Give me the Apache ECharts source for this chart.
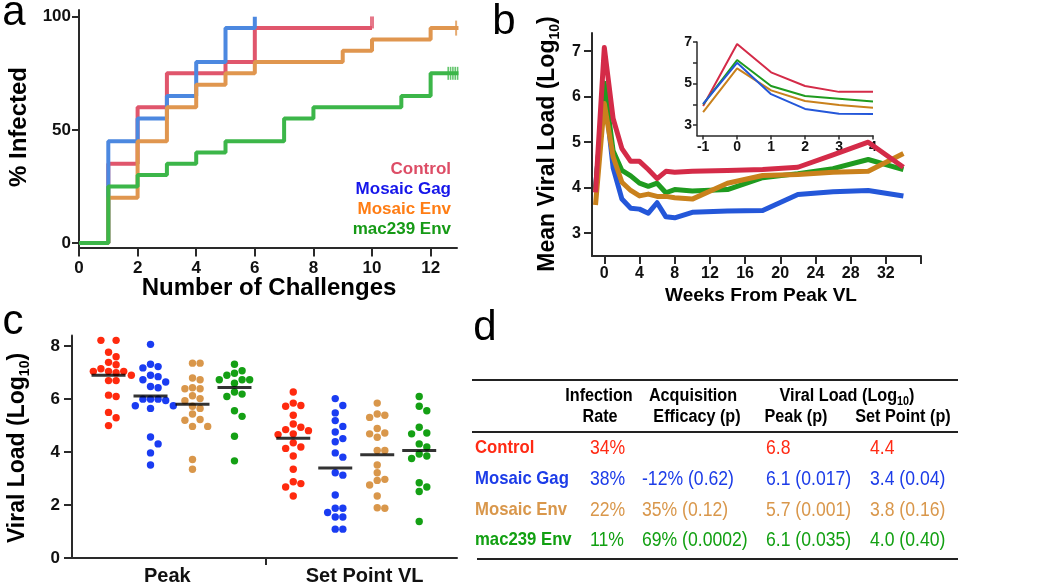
<!DOCTYPE html>
<html><head><meta charset="utf-8">
<script src="https://cdn.jsdelivr.net/npm/echarts@6/dist/echarts.min.js"></script>
<style>html,body{margin:0;padding:0;background:#fff}#chart{width:1050px;height:586px}</style>
</head><body><div id="chart"></div>
<script>
// ---------------- Panel a : % infected vs number of challenges ----------------
const groupNames = ['Control', 'Mosaic Gag', 'Mosaic Env', 'mac239 Env'];
const challengeControl = [0, 1, 2, 3, 5, 6, 10];
const infectedControl  = [0, 35, 60, 75, 80, 95, 95];
const challengeGag = [0, 1, 2, 3, 4, 5, 6];
const infectedGag  = [0, 45, 55, 65, 80, 95, 100];
const challengeEnv = [0, 1, 2, 3, 4, 5, 6, 9, 10, 12, 12.95];
const infectedEnv  = [0, 20, 45, 60, 70, 75, 80, 85, 90, 95, 95];
const challengeMac = [0, 1, 2, 3, 4, 5, 7, 8, 11, 12, 12.95];
const infectedMac  = [0, 25, 30, 35, 40, 45, 55, 60, 65, 75, 75];
const censorControlX = [10], censorControlY = [97.5];
const censorEnvX = [12.87], censorEnvY = [95];
const censorMacX = [12.6, 12.68, 12.76, 12.84, 12.92], censorMacY = [75, 75, 75, 75, 75];
const aXTicks = [0, 2, 4, 6, 8, 10, 12];
const aYTicks = [0, 50, 100];

// ---------------- Panel b : mean viral load vs weeks ----------------
const weeksB = [-1, 0, 1, 2, 3, 4, 5, 6, 7, 8, 10, 14, 18, 22, 26, 30, 34];
const vlControl = [3.9, 7.08, 5.52, 4.86, 4.58, 4.58, 4.4, 4.2, 4.36, 4.34, 4.36, 4.38, 4.4, 4.45, 4.72, 5.0, 4.45];
const vlGag     = [4.0, 6.2, 4.44, 3.75, 3.55, 3.53, 3.44, 3.67, 3.36, 3.34, 3.46, 3.49, 3.5, 3.85, 3.91, 3.94, 3.82];
const vlEnv     = [3.62, 5.85, 4.68, 4.12, 3.94, 3.82, 3.86, 3.81, 3.81, 3.78, 3.75, 4.1, 4.27, 4.29, 4.34, 4.36, 4.75];
const vlMac     = [3.95, 6.3, 4.81, 4.38, 4.26, 4.1, 4.03, 4.1, 3.89, 3.96, 3.93, 3.96, 4.22, 4.31, 4.42, 4.62, 4.4];
const bXTicks = [0, 4, 8, 12, 16, 20, 24, 28, 32, 36];
const bXLabels = [0, 4, 8, 12, 16, 20, 24, 28, 32];
const bYTicks = [3, 4, 5, 6, 7];
// inset
const weeksInset = [-1, 0, 1, 2, 3, 4];
const insetControl = [3.92, 6.9, 5.54, 4.88, 4.6, 4.6];
const insetGag     = [4.02, 6.0, 4.49, 3.78, 3.55, 3.53];
const insetEnv     = [3.62, 5.73, 4.67, 4.16, 3.97, 3.84];
const insetMac     = [4.0, 6.13, 4.88, 4.4, 4.27, 4.14];
const insetYTicks = [3, 4, 5, 6, 7];
const insetYLabels = [3, 5, 7];
const insetXTicks = [-1, 0, 1, 2, 3, 4];

// ---------------- Panel c : individual viral loads ----------------
const peakControl = [8.45, 8.22, 8.22, 7.77, 7.6, 7.39, 7.3, 7.15, 7.05, 7.05, 7.05, 7.0, 6.9, 6.7, 6.7, 6.15, 6.1, 5.5, 5.3, 5.0];
const peakGag     = [8.07, 7.32, 7.23, 7.18, 6.9, 6.85, 6.73, 6.65, 6.48, 6.43, 6.0, 6.0, 6.0, 5.95, 5.75, 5.75, 5.65, 4.57, 4.31, 3.97, 3.51];
const peakEnv     = [7.36, 7.36, 6.8, 6.73, 6.43, 6.39, 6.39, 6.13, 6.02, 5.94, 5.73, 5.65, 5.44, 5.23, 5.2, 4.97, 4.97, 3.72, 3.35];
const peakMac     = [7.32, 7.07, 6.98, 6.9, 6.73, 6.73, 6.73, 6.6, 6.27, 6.19, 6.1, 5.56, 5.35, 4.6, 3.67];
const spControl   = [6.27, 5.85, 5.76, 5.73, 5.39, 5.06, 4.94, 4.85, 4.81, 4.69, 4.66, 4.35, 4.19, 4.14, 3.85, 3.35, 2.88, 2.81, 2.68, 2.34];
const spGag       = [6.02, 5.76, 5.48, 5.19, 4.97, 4.76, 4.51, 4.39, 3.97, 3.81, 3.22, 3.13, 2.38, 1.88, 1.88, 1.72, 1.55, 1.55, 1.09, 1.09];
const spEnv       = [5.85, 5.44, 5.39, 5.31, 4.89, 4.72, 4.69, 4.56, 4.06, 4.06, 3.51, 3.22, 2.97, 2.93, 2.76, 2.34, 1.9, 1.88];
const spMac       = [6.1, 5.73, 5.56, 4.94, 4.72, 4.69, 4.31, 4.19, 3.93, 3.85, 3.76, 2.84, 2.68, 2.51, 1.38];
const peakLines = [6.9, 6.12, 5.81, 6.44];
const spLines   = [4.52, 3.4, 3.9, 4.06];
const cCategories = ['Peak', 'Set Point VL'];
const cYTicks = [0, 2, 4, 6, 8];

// ---------------- Panel d : table ----------------
const tableHeader1 = ['Infection', 'Acquisition', 'Viral Load (Log10)'];
const tableHeader2 = ['Rate', 'Efficacy (p)', 'Peak (p)', 'Set Point (p)'];
const infectionRate = ['34%', '38%', '22%', '11%'];
const acquisition   = ['', '-12% (0.62)', '35% (0.12)', '69% (0.0002)'];
const peakP         = ['6.8', '6.1 (0.017)', '5.7 (0.001)', '6.1 (0.035)'];
const setPointP     = ['4.4', '3.4 (0.04)', '3.8 (0.16)', '4.0 (0.40)'];

// ---------------- colours ----------------
const colA = ['#e0566c', '#4c88e0', '#e0964f', '#3cb649'];
const colLegendA = ['#dd4d66', '#1616ea', '#ff7d14', '#169a16'];
const colB = ['#d42b48', '#2457d9', '#c9811c', '#1f9b1f'];
const colC = ['#ff2a0e', '#1a3cf2', '#d9974b', '#14a014'];
const colD = ['#ff2a14', '#1c3ce8', '#d9974b', '#12a012'];

const FONT = '"Liberation Sans", Arial, sans-serif';
const NARROW = '"Liberation Sans Narrow", "Liberation Sans", Arial, sans-serif';
const AX = '#2a2a2a';

function pairs(xs, ys) { return xs.map((x, i) => [x, ys[i]]); }

function valueAxis(o) {
  const ax = {
    type: 'value', gridIndex: o.grid, min: o.min, max: o.max, scale: true,
    splitLine: { show: false },
    axisLine: { show: true, onZero: false, lineStyle: { color: AX, width: o.lw || 2 } },
    axisTick: { show: true, length: o.tickLen || 7, lineStyle: { color: AX, width: o.lw || 2 }, customValues: o.ticks },
    axisLabel: { show: true, margin: o.margin || 10, color: '#111', fontFamily: o.family || FONT, fontWeight: 'bold', fontSize: o.fs || 17, customValues: o.labels || o.ticks, formatter: o.formatter },
  };
  if (o.pos) ax.position = o.pos;
  return ax;
}

// beeswarm layout: offsets (in px) computed from the values
function swarm(values, centerX, pxPerX, pxPerY, step) {
  const sorted = values.slice().sort((a, b) => b - a);
  const placed = [];
  const out = [];
  sorted.forEach(v => {
    const yp = v * pxPerY;
    for (let k = 0; k < 30; k++) {
      const m = k === 0 ? 0 : (k % 2 ? Math.ceil(k / 2) : -Math.ceil(k / 2));
      const xp = m * step;
      let ok = true;
      for (const p of placed) {
        const dx = xp - p[0], dy = yp - p[1];
        if (dx * dx + dy * dy < step * step * 0.98) { ok = false; break; }
      }
      if (ok) { placed.push([xp, yp]); out.push([centerX + xp / pxPerX, v]); break; }
    }
  });
  return out;
}

const series = [];
// panel a
const aX = [challengeControl, challengeGag, challengeEnv, challengeMac];
const aY = [infectedControl, infectedGag, infectedEnv, infectedMac];
[3, 0, 1, 2].forEach(i => {
  series.push({ type: 'line', xAxisIndex: 0, yAxisIndex: 0, step: 'end', data: pairs(aX[i], aY[i]),
    showSymbol: false, symbol: 'none', clip: false, lineStyle: { color: colA[i], width: 4 }, z: 2 + i, animation: false });
});
[[censorControlX, censorControlY, 0, [4, 12]], [censorEnvX, censorEnvY, 2, [2, 15]], [censorMacX, censorMacY, 3, [1.6, 13]]].forEach(c => {
  series.push({ type: 'scatter', xAxisIndex: 0, yAxisIndex: 0, symbol: 'rect', symbolSize: c[3], clip: false,
    data: pairs(c[0], c[1]), itemStyle: { color: colA[c[2]] }, z: 8, animation: false, silent: true });
});
// panel b main
const bY = [vlControl, vlGag, vlEnv, vlMac];
[1, 3, 2, 0].forEach(i => {
  series.push({ type: 'line', xAxisIndex: 1, yAxisIndex: 1, data: pairs(weeksB, bY[i]), showSymbol: false, symbol: 'none',
    lineStyle: { color: colB[i], width: 5, join: 'round' }, z: 3, animation: false });
});
// inset
const inY = [insetControl, insetGag, insetEnv, insetMac];
[0, 3, 2, 1].forEach(i => {
  series.push({ type: 'line', xAxisIndex: 2, yAxisIndex: 2, data: pairs(weeksInset, inY[i]), showSymbol: false, symbol: 'none',
    lineStyle: { color: colB[i], width: 2 }, z: 4, animation: false });
});
// panel c
const cPxX = 42, cPxY = 26.6;
const peakSets = [peakControl, peakGag, peakEnv, peakMac];
const spSets = [spControl, spGag, spEnv, spMac];
[peakSets, spSets].forEach((sets, g) => {
  sets.forEach((vals, i) => {
    const cx = g * 4.4 + i;
    series.push({ type: 'scatter', xAxisIndex: 3, yAxisIndex: 3, symbol: 'circle', symbolSize: 7.4,
      data: swarm(vals, cx, cPxX, cPxY, 7.6), itemStyle: { color: colC[i], opacity: 1 }, z: 3, animation: false });
  });
  const lines = g === 0 ? peakLines : spLines;
  series.push({ type: 'scatter', xAxisIndex: 3, yAxisIndex: 3, symbol: 'rect', symbolSize: [34, 3],
    data: lines.map((v, i) => [g * 4.4 + i, v]), itemStyle: { color: '#000' }, z: 6, animation: false });
});

const option = {
  backgroundColor: '#fff',
  animation: false,
  grid: [
    { left: 79, top: 10, width: 378, height: 237.5 },
    { left: 592, top: 33, width: 329, height: 223 },
    { left: 697, top: 42, width: 176, height: 93.5 },
    { left: 72, top: 335.6, width: 385, height: 223.4 },
  ],
  xAxis: [
    valueAxis({ grid: 0, min: 0, max: 12.9, ticks: aXTicks, tickLen: 9, margin: 12, fs: 17, pos: 'bottom' }),
    valueAxis({ grid: 1, min: -1.4, max: 36, ticks: bXTicks, labels: bXLabels, tickLen: 8, margin: 10, fs: 16, family: NARROW, pos: 'bottom' }),
    valueAxis({ grid: 2, min: -1.18, max: 4, ticks: insetXTicks, tickLen: 4, margin: 5, fs: 14, family: NARROW, lw: 1.5, pos: 'bottom' }),
    valueAxis({ grid: 3, min: -0.87, max: 8.3, ticks: [3.75], labels: [1.4, 6.1], tickLen: 7, margin: 8, fs: 20, pos: 'bottom',
      formatter: v => (v < 4 ? cCategories[0] : cCategories[1]) }),
  ],
  yAxis: [
    valueAxis({ grid: 0, min: -2, max: 103, ticks: aYTicks, tickLen: 7, margin: 8, fs: 17, pos: 'left' }),
    valueAxis({ grid: 1, min: 2.5, max: 7.4, ticks: bYTicks, tickLen: 8, margin: 11, fs: 16, family: NARROW, pos: 'left' }),
    valueAxis({ grid: 2, min: 2.5, max: 7, ticks: insetYTicks, labels: insetYLabels, tickLen: 4, margin: 5, fs: 14, family: NARROW, lw: 1.5, pos: 'left' }),
    valueAxis({ grid: 3, min: 0, max: 8.4, ticks: cYTicks, tickLen: 8, margin: 12, fs: 17, pos: 'left' }),
  ],
  series: series,
  graphic: []
};

// ---- graphic texts ----
const G = option.graphic;
function txt(t, x, y, o) {
  o = o || {};
  G.push({ type: 'text', x: x, y: y, rotation: o.rot || 0, scaleX: o.sx || 1, z: 100, silent: true,
    style: { text: t, fill: o.color || '#000', font: o.font || ('bold 24px ' + FONT),
      textAlign: o.align || 'center', align: o.align || 'center', textVerticalAlign: 'middle', verticalAlign: 'middle', rich: o.rich } });
}
function subRich(size, sub) {
  return {
    m: { fontFamily: FONT, fontWeight: 'bold', fontSize: size, lineHeight: size + 6 },
    s: { fontFamily: FONT, fontWeight: 'bold', fontSize: sub, lineHeight: sub, verticalAlign: 'bottom' }
  };
}
// panel letters
txt('a', 14, 13, { font: '42px ' + FONT });
txt('b', 504, 22, { font: '42px ' + FONT });
txt('c', 13, 322, { font: '42px ' + FONT });
txt('d', 485, 328, { font: '42px ' + FONT });
// axis titles
txt('% Infected', 19, 127, { rot: Math.PI / 2 });
txt('Number of Challenges', 269, 288);
txt('{m|Mean Viral Load (Log}{s|10}{m|)}', 548, 144, { rot: Math.PI / 2, rich: subRich(23, 14) });
txt('Weeks From Peak VL', 761, 296, { font: 'bold 19px ' + FONT });
txt('{m|Viral Load (Log}{s|10}{m|)}', 18, 448, { rot: Math.PI / 2, rich: subRich(23, 14) });
// legend panel a
const legY = [169, 189, 209, 229];
groupNames.forEach((n, i) => txt(n, 451, legY[i], { align: 'right', color: colLegendA[i], font: 'bold 17px ' + FONT }));

// table lines
[[472, 380, 958], [472, 432, 958], [477, 559, 958]].forEach(l => {
  G.push({ type: 'line', z: 100, silent: true, shape: { x1: l[0], y1: l[1], x2: l[2], y2: l[1] }, style: { stroke: '#222', lineWidth: 2 } });
});
// headers
const hFont = 'bold 18px ' + FONT;
txt(tableHeader1[0], 599, 396, { font: hFont, sx: 0.9 });
txt(tableHeader1[1], 693, 396, { font: hFont, sx: 0.9 });
txt('{m|Viral Load (Log}{s|10}{m|)}', 847, 396, { sx: 0.9, rich: subRich(18, 12) });
txt(tableHeader2[0], 600, 417, { font: hFont, sx: 0.9 });
txt(tableHeader2[1], 697, 417, { font: hFont, sx: 0.9 });
txt(tableHeader2[2], 796, 417, { font: hFont, sx: 0.9 });
txt(tableHeader2[3], 903, 417, { font: hFont, sx: 0.9 });
// rows
const rowY = [448, 479, 510, 540];
const bodyFont = '20px ' + FONT;
groupNames.forEach((n, i) => {
  txt(n, 475, rowY[i], { align: 'left', color: colD[i], font: 'bold 19px ' + FONT, sx: 0.88 });
  txt(infectionRate[i], 590, rowY[i], { align: 'left', color: colD[i], font: bodyFont, sx: 0.88 });
  txt(acquisition[i], 642, rowY[i], { align: 'left', color: colD[i], font: bodyFont, sx: 0.88 });
  txt(peakP[i], 766, rowY[i], { align: 'left', color: colD[i], font: bodyFont, sx: 0.88 });
  txt(setPointP[i], 870, rowY[i], { align: 'left', color: colD[i], font: bodyFont, sx: 0.88 });
});

const chart = echarts.init(document.getElementById('chart'), null, { renderer: 'canvas' });
chart.setOption(option);
</script></body></html>
